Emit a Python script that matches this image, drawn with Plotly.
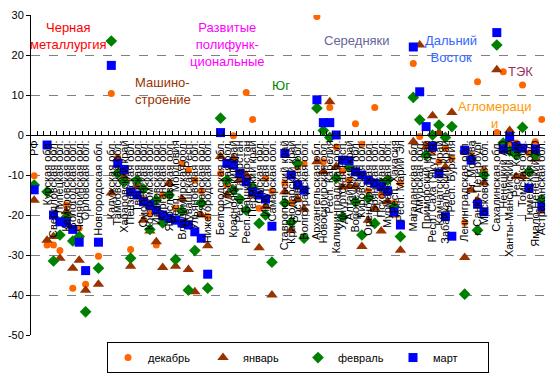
import plotly.graph_objects as go

categories = [
    "РФ", " ",
    "Курская обл.", "Свердловская обл.", "Липецкая обл.", "Кемеровская обл.", "Вологодская обл.",
    "Челябинская обл.", "Орловская обл.",
    "  ", "Новгородская обл.", "   ",
    "Калужская обл.", "Тамбовская обл.", "Хабаровский край", "Пензенская обл.", "Тверская обл.",
    "Смоленская обл.", "Костромская обл.", "Ивановская обл.", "Курганская обл.", "Ярославская обл.",
    "Респ. Мордовия", "Владимирская обл.", "Чувашская Респ.", "Ульяновская обл.", "Рязанская обл.",
    "Нижегородская обл.",
    "    ",
    "Белгородская обл.", "Тульская обл.", "Красноярский край", "Респ. Татарстан", "Респ. Башкортостан",
    "Пермский край", "Омская обл.", "Иркутская обл.", "Самарская обл.",
    "     ",
    "Ставропольский край", "Краснодарский край", "Ростовская обл.", "Волгоградская обл.",
    "      ",
    "Архангельская обл.", "Новосибирская обл.", "Респ. Карелия", "Калининградская обл.",
    "Удмуртская Респ.", "Алтайский край", "Воронежская обл.", "Кировская обл.", "Оренбургская обл.",
    "Брянская обл.", "Псковская обл.", "Мурманская обл.", "Респ. Хакасия", "Респ. Марий Эл",
    "       ",
    "Магаданская обл.", "Амурская обл.", "Приморский край", "Респ. Саха (Якутия)", "Камчатский край",
    "Забайкальский край", "Респ. Бурятия",
    "        ",
    "Ленинградская обл.", "г. Москва", "г. Санкт-Петербург", "Московская обл.",
    "         ",
    "Сахалинская обл.", "Ненецкий АО", "Ханты-Мансийский АО", "Респ. Коми", "Томская обл.",
    "Тюменская обл.", "Ямало-Ненецкий АО", "Астраханская обл.",
]

N = None
dec = [-10.2, N,
       -27.5, -27.5, -28.9, -17.5, -38.3, -23.3, -37.3,
       N, -30.3, N,
       10.4, -5.6, -9.0, -28.6, -12.0, -16.0, -19.6, -27.5, -15.0, -12.0, -18.3, -7.1, -8.8, -11.3, -14.0, -20.4,
       N,
       -9.6, -12.5, -0.2, -11.0, 10.6, 3.9, -18.3, -10.8, -14.0,
       N,
       -12.0, -17.0, -8.0, -7.1,
       N,
       29.6, -6.7, 6.9, -3.0, -9.0, -11.3, 2.8, -2.3, -14.0, 6.9, -15.0, -10.8, -17.0, -12.0,
       N,
       17.9, -0.4, -2.5, -4.0, -6.7, -3.3, -5.8,
       N,
       -21.9, -5.0, 13.3, -8.8,
       N,
       0.6, 15.8, -2.0, -2.0, 12.5, -4.5, -1.7, 3.9]

jan = [-16.3, N,
       -26.3, -25.4, -30.8, -19.2, -33.3, -31.3, -38.8,
       N, -37.3, N,
       -14.5, -6.0, -10.5, -32.8, -13.0, -21.3, -24.0, -26.7, -33.1, -12.1, -32.8, -16.0, -33.6, -39.2, -20.0, -27.7,
       N,
       -5.4, -15.0, -5.8, -11.3, -10.0, -15.0, -28.2, -17.9, -40.0,
       N,
       -14.2, -23.8, -16.0, -18.5,
       N,
       -6.7, -9.2, 8.3, -7.9, -13.0, -12.9, -12.9, -27.9, -21.3, -18.3, -24.0, -16.7, -20.0, -28.8,
       N,
       -1.7, 22.5, -3.0, 4.8, 0.6, -8.0, 5.6,
       N,
       -30.6, -13.8, -16.3, -12.0,
       N,
       16.3, -3.0, 1.1, -10.4, -10.4, -9.0, -6.0, -19.0]

feb = [-12.5, N,
       -14.2, -31.5, -25.0, -20.5, -26.5, -25.4, -44.2,
       N, -33.3, N,
       23.5, -9.6, -11.7, -30.8, -11.3, -13.5, -23.6, -16.3, -22.0, -15.0, -31.1, -19.0, -38.8, -28.9, -17.0, -38.3,
       N,
       4.2, -11.3, -13.8, -16.0, -18.8, -13.0, -22.1, -20.0, -31.8,
       N,
       -17.0, -21.8, -7.1, -25.8,
       N,
       6.7, 1.1, -0.6, -10.8, -20.5, -8.0, -16.7, -25.0, -15.8, -22.1, -12.0, -11.3, -18.0, -25.4,
       N,
       9.4, 3.8, -5.0, 0.0, 2.5, -0.6, 2.1,
       N,
       -39.8, -6.0, -23.8, -10.0,
       N,
       22.5, -2.0, -4.0, -5.0, 1.9, -9.2, -5.0, -16.3]

mar = [-13.7, N,
       -2.5, -20.0, -21.7, -22.0, -23.6, -26.8, -33.9,
       N, -26.8, N,
       17.4, -7.1, -8.6, -14.2, -15.0, -16.7, -17.5, -18.8, -20.0, -20.8, -21.3, -22.0, -22.5, -24.2, -25.8, -34.8,
       N,
       0.6, -7.1, -7.5, -9.6, -11.7, -14.2, -15.0, -16.0, -22.8,
       N,
       -4.6, -10.0, -12.5, -13.8,
       N,
       8.8, 3.1, 3.1, 0.0, -6.3, -6.4, -9.2, -10.0, -11.3, -12.1, -12.9, -14.0, -19.2, -22.5,
       N,
       22.0, 10.8, 2.1, -2.9, -9.6, -20.4, -25.3,
       N,
       -3.8, -6.3, -17.3, -19.2,
       N,
       25.6, -3.5, -0.4, -2.9, -3.3, -13.3, -3.5, -17.9]

series_names = ["декабрь", "январь", "февраль", "март"]
y_ticks = [30, 20, 10, 0, -10, -20, -30, -40, -50]
y_tick_text = ["30", "20", "10", "0", "-10", "-20", "-30", "-40", "-50"]

group_labels = [
    ("Черная<br>металлургия", "#FF0000", 68, 36.5, "center"),
    ("Машино-<br>строение", "#993300", 133, 90.5, "left"),
    ("Развитые<br>полифунк-<br>циональные", "#FF00FF", 227, 44.5, "center"),
    ("Юг", "#008000", 281, 85, "center"),
    ("Середняки", "#666699", 357, 40, "center"),
    ("Дальний<br>Восток", "#3366FF", 451, 48.5, "center"),
    ("ТЭК", "#993366", 520, 71, "center"),
    ("Агломераци<br>и", "#FF9900", 494.5, 114.5, "center"),
]

FONT = "Arial, Liberation Sans, sans-serif"
styles = [
    dict(symbol="circle", color="#FF6600", size=7),
    dict(symbol="triangle-up", color="#993300", size=10),
    dict(symbol="diamond", color="#008000", size=9),
    dict(symbol="square", color="#0000FF", size=9),
]

fig = go.Figure()
for name, vals, st in zip(series_names, [dec, jan, feb, mar], styles):
    fig.add_trace(go.Scatter(
        x=categories, y=vals, mode="markers", name=name,
        marker=dict(symbol=st["symbol"], color=st["color"], size=st["size"], line=dict(width=0)),
    ))

W, H = 550, 376
L, R, T, B = 31, 5, 15, 41
pw, ph = W - L - R, H - T - B

for text, color, px, py, align in group_labels:
    fig.add_annotation(
        x=(px - L) / pw, y=(H - B - py) / ph, xref="paper", yref="paper",
        text=text, showarrow=False, align=align,
        xanchor="left" if align == "left" else "center", yanchor="middle",
        font=dict(family=FONT, size=13, color=color),
    )

fig.update_layout(
    width=W, height=H, autosize=False,
    margin=dict(l=L, r=R, t=T, b=B, pad=0, autoexpand=False),
    paper_bgcolor="white", plot_bgcolor="white",
    font=dict(family=FONT, size=11, color="black"),
    showlegend=True,
    legend=dict(
        orientation="h", x=(298 - L) / pw, xanchor="center", y=-0.022, yanchor="top",
        bordercolor="black", borderwidth=1, bgcolor="white",
        font=dict(family=FONT, size=11, color="black"),
        entrywidth=50, entrywidthmode="pixels",
        itemsizing="trace", tracegroupgap=0,
    ),
    xaxis=dict(
        type="category", categoryorder="array", categoryarray=categories,
        range=[-0.5, len(categories) - 0.5],
        tickmode="linear", tick0=0, dtick=1,
        anchor="free", position=50 / 80,
        showline=True, linecolor="black", linewidth=1,
        ticks="inside", tickson="boundaries", ticklen=4, tickcolor="black",
        tickangle=-90, tickfont=dict(family=FONT, size=11, color="black"),
        showgrid=False, zeroline=False,
    ),
    yaxis=dict(
        range=[-50, 30], tickvals=y_ticks, ticktext=y_tick_text,
        showline=True, linecolor="black", linewidth=1,
        ticks="outside", ticklen=4, tickcolor="black",
        showgrid=True, gridcolor="#808080", griddash="dash", gridwidth=1,
        zeroline=False, tickfont=dict(family=FONT, size=11, color="black"),
    ),
)

fig.write_html("out.html", config={"displayModeBar": False},
               post_script="document.body.style.margin='0';")
